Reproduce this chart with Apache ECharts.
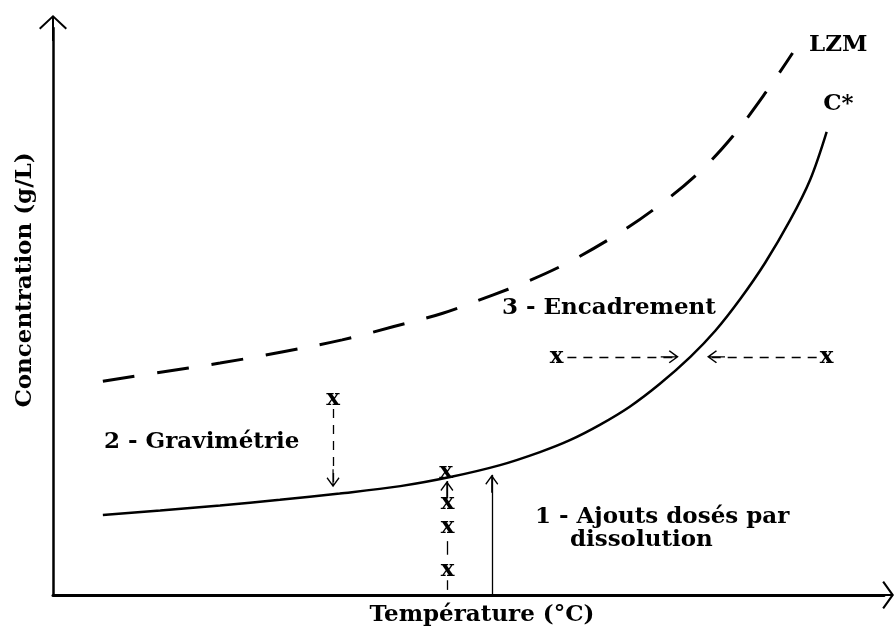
<!DOCTYPE html>
<html>
<head>
<meta charset="utf-8">
<script src="https://cdn.jsdelivr.net/npm/echarts@6/dist/echarts.min.js"></script>
<style>
  html, body { margin: 0; padding: 0; background: #fff; }
  #chart { width: 896px; height: 632px; }
</style>
</head>
<body>
<div id="chart"></div>
<script>
// Solubility curve C* : temperature vs concentration (arbitrary units 0-100)
const solubilityT = [6.0, 12.9, 20.1, 27.3, 34.5, 41.8, 47.8, 53.8, 58.6, 62.2, 65.8, 69.4, 73.0, 76.7, 79.7, 82.7, 85.7, 88.7, 91.1, 93.1];
const solubilityC = [14.1, 14.9, 15.8, 16.8, 17.9, 19.2, 20.8, 22.9, 25.2, 27.3, 30.0, 33.2, 37.2, 42.0, 46.6, 52.2, 58.6, 66.1, 73.2, 81.7];

// Metastable zone limit (LZM)
const lzmT = [6.0, 12.5, 20.1, 27.7, 34.8, 40.9, 46.9, 52.9, 56.6, 61.4, 67.0, 72.2, 77.5, 81.8, 86.0, 89.0];
const lzmC = [37.7, 39.2, 40.9, 42.9, 45.0, 47.3, 49.7, 52.9, 55.0, 58.2, 62.8, 67.9, 74.2, 80.9, 89.1, 95.6];

// Sample points ("x") of the three measuring methods
const sampleT = [33.7, 47.3, 47.5, 47.5, 47.5, 60.6, 93.1];
const sampleC = [34.6, 21.7, 16.2, 12.0, 4.4, 42.0, 42.0];

// Arrows: [fromT, fromC, toT, toC]
const dashedArrows = [
  [33.7, 32.8, 33.7, 19.0],  // gravimetry: sample dropping onto C*
  [61.9, 42.0, 75.3, 42.0],  // bracketing from below
  [91.9, 42.0, 78.7, 42.0]   // bracketing from above
];
const additionArrow = [47.4, 17.3, 47.4, 20.1];
const additionDashes = [
  [47.4, 0.9, 47.4, 2.6],
  [47.4, 7.1, 47.4, 9.5]
];
const solidArrow = [52.8, 0, 52.8, 21.2];

// Annotation texts and their anchor positions
const noteTexts = ['LZM', 'C*', '3 - Encadrement', '2 - Gravimétrie', '1 - Ajouts dosés par', 'dissolution'];
const noteT = [94.5, 94.5, 66.9, 17.9, 73.3, 70.8];
const noteC = [97.0, 86.6, 50.6, 27.0, 13.8, 9.7];

const FONT = 'DejaVu Serif';
const txt = { fontFamily: FONT, fontSize: 23, fontWeight: 'bold', color: '#000' };

// Open chevron arrowheads (tip at top), with a short stem
const Y_ARROW = 'path://M14,0L28,13L26.6,14.4L15,3.4L15,26L13,26L13,3.4L1.4,14.4L0,13Z';
const X_ARROW = 'path://M14,0L28,10L26.8,11.7L15,3.3L15,20L13,20L13,3.3L1.2,11.7L0,10Z';
// Small arrowhead whose tip sits at the symbol centre
const HEAD = 'path://M6.5,0L13,9L12,10L7.1,3.3L7.1,18L5.9,18L5.9,3.3L1,10L0,9Z M6.5,-18L6.51,-18L6.5,-17.99Z';

function pairs(xs, ys) { return xs.map((x, i) => [x, ys[i]]); }
function segs(list) { return list.map(s => [{ coord: [s[0], s[1]] }, { coord: [s[2], s[3]] }]); }

const chart = echarts.init(document.getElementById('chart'));

chart.setOption({
  animation: false,
  backgroundColor: '#fff',
  grid: { left: 53, top: 28, right: 12, bottom: 37 },
  xAxis: {
    type: 'value', min: 0, max: 100,
    name: 'Température (°C)', nameLocation: 'middle', nameGap: 9,
    nameTextStyle: Object.assign({}, txt, { padding: [0, 0, 0, 27] }),
    axisLine: { show: true, onZero: false, symbol: ['none', X_ARROW], symbolSize: [28, 20],
      lineStyle: { color: '#000', width: 3 } },
    axisTick: { show: false }, axisLabel: { show: false }, splitLine: { show: false }
  },
  yAxis: {
    type: 'value', min: 0, max: 100,
    name: 'Concentration (g/L)', nameLocation: 'middle', nameGap: 16,
    nameTextStyle: Object.assign({}, txt, { padding: [0, 0, 0, 63] }),
    axisLine: { show: true, onZero: false, symbol: ['none', Y_ARROW], symbolSize: [28, 26],
      lineStyle: { color: '#000', width: 2.5 } },
    axisTick: { show: false }, axisLabel: { show: false }, splitLine: { show: false }
  },
  series: [
    {
      type: 'line', name: 'C*', data: pairs(solubilityT, solubilityC),
      smooth: 0.35, symbol: 'none', silent: true,
      lineStyle: { color: '#000', width: 2.5 }
    },
    {
      type: 'line', name: 'LZM', data: pairs(lzmT, lzmC),
      smooth: 0.35, symbol: 'none', silent: true,
      lineStyle: { color: '#000', width: 3, type: [32, 23] }
    },
    {
      type: 'line', data: [], silent: true,
      markLine: {
        silent: true, symbol: ['none', HEAD], symbolSize: [13, 36],
        label: { show: false },
        lineStyle: { color: '#000', width: 1.3, type: [9, 7] },
        data: segs(dashedArrows)
      }
    },
    {
      type: 'line', data: [], silent: true,
      markLine: {
        silent: true, symbol: ['none', 'none'],
        label: { show: false },
        lineStyle: { color: '#000', width: 1.3, type: 'solid' },
        data: segs(additionDashes)
      }
    },
    {
      type: 'line', data: [], silent: true,
      markLine: {
        silent: true, symbol: ['none', HEAD], symbolSize: [13, 36],
        label: { show: false },
        lineStyle: { color: '#000', width: 1.3, type: 'solid' },
        data: segs([additionArrow, solidArrow])
      }
    },
    {
      type: 'scatter', data: pairs(sampleT, sampleC), symbolSize: 1, silent: true, z: 5,
      itemStyle: { color: 'rgba(0,0,0,0)', opacity: 1 },
      label: Object.assign({ show: true, position: 'inside', formatter: 'x', opacity: 1 }, txt)
    },
    {
      type: 'scatter', silent: true, z: 5, symbolSize: 1,
      data: noteTexts.map((t, i) => ({ name: t, value: [noteT[i], noteC[i]] })),
      itemStyle: { color: 'rgba(0,0,0,0)', opacity: 1 },
      label: Object.assign({ show: true, position: 'inside', formatter: '{b}', opacity: 1 }, txt)
    }
  ]
});
</script>
</body>
</html>
